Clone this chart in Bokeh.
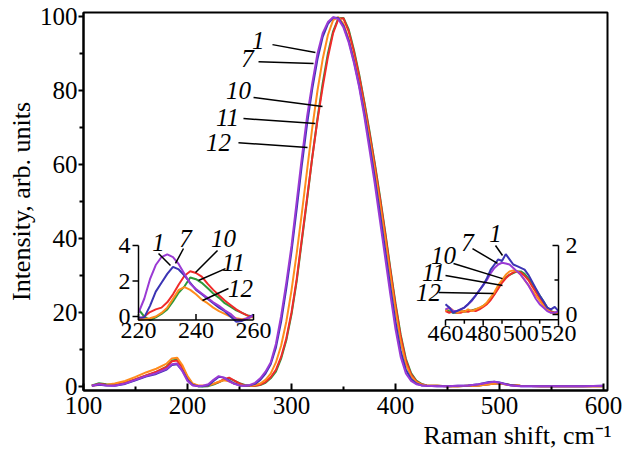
from bokeh.plotting import figure
from bokeh.models import Range1d, FixedTicker, Title
from bokeh.core.properties import value
from bokeh.embed import file_html
from bokeh.resources import INLINE

# ---------------- data ----------------
x_main = [108, 115, 122, 130, 140, 150, 160, 170, 180, 185, 190, 195, 200, 205, 210, 215, 220, 225, 230, 235,
          240, 245, 250, 255, 260,
          265, 270, 275, 280, 285, 290, 295, 300, 305, 310, 315, 320, 325, 330, 335, 340, 345, 350, 355, 360,
          365, 370, 375, 380, 385, 390, 395, 400, 405, 410, 415, 420, 425, 430,
          440, 450, 460, 470, 480, 490, 495, 500, 510, 520, 540, 560, 580, 600]

main_1 = [0.2, 0.6, 0.3, 0.2, 0.8, 1.8, 2.8, 3.6, 4.8, 6.0, 6.2, 4.2, 1.5, 0.3, 0.1, 0.2, 0.6, 1.8, 2.8, 2.4,
          1.4, 0.7, 0.3, 0.2, 0.4,
          1.0, 2.2, 4.0, 6.5, 11.5, 19, 28, 38, 50, 62, 73, 82, 90, 95.5, 98.5, 99.8, 99.3, 97, 93, 87.5,
          81, 73, 64, 55, 45, 35, 25, 15.5, 8, 3.5, 1.5, 0.6, 0.3, 0.2,
          0.1, 0.1, 0.2, 0.3, 0.6, 1.1, 1.3, 1.0, 0.3, 0.1, 0.1, 0.1, 0.1, 0.2]
main_7 = [0.2, 0.5, 0.3, 0.2, 0.7, 1.7, 2.7, 3.4, 4.6, 5.8, 6.0, 4.3, 1.8, 0.4, 0.1, 0.1, 0.3, 1.5, 2.6, 2.4,
          1.6, 0.8, 0.3, 0.2, 0.3,
          0.7, 1.8, 3.5, 6.0, 10.5, 17.5, 26.5, 36.5, 48, 60, 71, 80.5, 88.5, 94.5, 98, 99.7, 99.6, 97.5, 93.5, 88,
          81.5, 74, 65.5, 56.5, 47, 37, 27, 17.5, 9.5, 4.5, 2.0, 0.8, 0.3, 0.2,
          0.1, 0.1, 0.2, 0.3, 0.6, 1.2, 1.3, 1.1, 0.4, 0.1, 0.1, 0.1, 0.1, 0.2]
main_10 = [0.2, 0.7, 0.5, 0.4, 1.0, 2.0, 3.0, 4.0, 5.3, 6.8, 7.0, 5.2, 2.4, 0.6, 0.2, 0.2, 0.3, 0.7, 1.2, 2.0,
           2.4, 1.6, 0.8, 0.3, 0.2,
           0.2, 0.5, 1.2, 2.5, 4.5, 8, 13, 20, 29, 40, 51, 62, 72, 81, 89, 95.5, 99.3, 99.5, 96, 90.5,
           84, 76.5, 68.5, 60, 51, 41.5, 31.5, 22, 13.5, 7, 3.3, 1.4, 0.6, 0.3,
           0.2, 0.1, 0.1, 0.2, 0.3, 0.6, 0.8, 0.9, 0.4, 0.2, 0.1, 0.1, 0.1, 0.1]
main_11 = [0.3, 0.9, 0.6, 0.4, 0.9, 1.9, 2.9, 3.9, 5.4, 7.0, 7.2, 5.4, 2.5, 0.6, 0.1, 0.0, 0.1, 0.5, 1.1, 1.8,
           2.2, 1.6, 0.9, 0.4, 0.2,
           0.2, 0.4, 1.0, 2.2, 4.0, 7.5, 12.5, 19.5, 28.5, 39.5, 50.5, 62, 72.5, 82, 90, 96, 99.5, 99.6, 96.5, 91,
           84.5, 77, 69, 60.5, 51.5, 42, 32, 22.5, 14, 7.5, 3.6, 1.6, 0.7, 0.3,
           0.2, 0.1, 0.1, 0.2, 0.3, 0.6, 0.8, 0.9, 0.4, 0.2, 0.1, 0.1, 0.1, 0.1]
main_12 = [0.3, 0.4, 0.5, 0.8, 1.5, 2.6, 3.8, 4.8, 6.2, 7.6, 7.8, 5.8, 2.8, 0.8, 0.3, 0.2, 0.3, 0.7, 1.3, 1.7,
           1.4, 0.8, 0.4, 0.2, 0.2,
           0.4, 0.8, 1.8, 3.5, 6.5, 11, 17.5, 26, 36, 47, 58.5, 70, 80, 88.5, 95, 99, 99.8, 98, 94, 88.5,
           82, 75, 67, 58.5, 49.5, 40, 30, 20.5, 12, 6, 2.8, 1.2, 0.5, 0.3,
           0.2, 0.1, 0.1, 0.2, 0.3, 0.6, 0.8, 0.8, 0.4, 0.2, 0.1, 0.1, 0.1, 0.1]

x_in1 = [220, 222, 224, 226, 228, 230, 232, 234, 236, 238, 240, 242, 244, 246, 248, 250, 252, 254, 256, 258, 260]
in1_1 = [0.2, 1.0, 2.1, 2.9, 3.35, 3.5, 3.35, 2.95, 2.4, 1.85, 1.55, 1.3, 1.05, 0.8, 0.6, 0.35, 0.15, -0.15, -0.2, -0.1, 0.05]
in1_7 = [-0.05, -0.05, 0.6, 1.4, 1.9, 2.4, 2.8, 2.65, 2.3, 1.9, 1.5, 1.25, 1.0, 0.75, 0.5, 0.3, 0.0, -0.3, -0.25, -0.1, 0.1]
in1_10 = [-0.2, 0.0, 0.25, 0.4, 0.5, 0.8, 1.25, 1.8, 2.3, 2.55, 2.45, 2.25, 1.85, 1.5, 1.2, 0.9, 0.65, 0.4, 0.2, 0.05, -0.05]
in1_11 = [0.4, 0.0, -0.2, -0.05, 0.15, 0.4, 0.85, 1.35, 1.7, 2.2, 2.1, 1.9, 1.6, 1.3, 1.05, 0.75, 0.55, 0.35, 0.2, 0.05, 0.0]
in1_12 = [-0.2, -0.15, -0.1, 0.0, 0.2, 0.5, 1.0, 1.5, 1.65, 1.5, 1.25, 0.95, 0.75, 0.5, 0.3, 0.15, 0.0, -0.1, -0.15, -0.1, 0.0]

x_in2 = [460, 462, 464, 466, 468, 470, 472, 474, 476, 478, 480, 482, 484, 486, 488, 490, 492, 494, 496, 498,
         500, 502, 504, 506, 508, 510, 512, 514, 516, 518, 520]
in2_1 = [0.15, 0.2, 0.1, 0.1, 0.15, 0.2, 0.3, 0.4, 0.55, 0.7, 0.85, 1.0, 1.2, 1.35, 1.45, 1.5, 1.48, 1.45, 1.35, 1.25,
         1.15, 1.0, 0.85, 0.65, 0.45, 0.3, 0.2, 0.1, 0.05, 0.05, 0.1]
in2_7 = [0.3, 0.2, 0.05, 0.1, 0.15, 0.2, 0.3, 0.42, 0.55, 0.7, 0.85, 1.05, 1.3, 1.45, 1.6, 1.55, 1.75, 1.6, 1.45, 1.4,
         1.35, 1.3, 1.15, 0.95, 0.75, 0.55, 0.38, 0.2, 0.15, 0.22, 0.1]
in2_10 = [0.1, 0.05, 0.1, 0.05, 0.05, 0.1, 0.08, 0.12, 0.1, 0.15, 0.22, 0.3, 0.42, 0.58, 0.75, 0.92, 1.05, 1.15, 1.22, 1.25,
          1.22, 1.12, 1.0, 0.82, 0.65, 0.48, 0.32, 0.18, 0.08, 0.05, 0.05]
in2_11 = [0.15, 0.1, 0.05, 0.05, 0.1, 0.08, 0.1, 0.12, 0.15, 0.18, 0.25, 0.32, 0.45, 0.6, 0.78, 0.95, 1.08, 1.15, 1.2, 1.25,
          1.25, 1.18, 1.05, 0.9, 0.72, 0.55, 0.38, 0.2, 0.1, 0.05, 0.05]
in2_12 = [0.1, 0.2, 0.12, 0.05, 0.1, 0.08, 0.15, 0.1, 0.15, 0.2, 0.25, 0.35, 0.5, 0.65, 0.85, 1.0, 1.15, 1.25, 1.28, 1.25,
          1.15, 1.0, 0.85, 0.7, 0.55, 0.4, 0.25, 0.15, 0.05, 0.05, 0.05]

x_ticks = [100, 200, 300, 400, 500, 600]
x_minor = [150, 250, 350, 450, 550]
y_ticks = [0, 20, 40, 60, 80, 100]
y_minor = [10, 30, 50, 70, 90]
in1_xticks = [220, 240, 260]
in1_yticks = [0, 2, 4]
in2_xticks = [460, 480, 500, 520]
in2_xminor = [470, 490, 510]
in2_yticks = [0, 2]
in2_yminor = [1]

curve_names = ["1", "7", "10", "11", "12"]

# ---------------- styling / layout ----------------
C1, C7, C10, C11, C12 = "#9a3ad4", "#3b34b4", "#f02a2a", "#2f9a3a", "#ff8c1c"
FONT = "Liberation Serif"
W, H = 630, 460
FL, FR, FT, FB = 83, 607, 12, 390          # frame edges on the page (px)
OFF = 0                                     # page offset of the figure


def rng(d0, p0, d1, p1, lo_px, hi_px):
    k = (d1 - d0) / (p1 - p0)
    return Range1d(start=d0 + (lo_px - p0) * k, end=d0 + (hi_px - p0) * k)


p = figure(width=W, height=H, output_backend="svg", toolbar_location=None,
           x_range=rng(100, 83, 600, 603, FL, FR),
           y_range=rng(0, 386, 100, 16, FB, FT),
           min_border_left=FL - OFF, min_border_right=W - (FR - OFF),
           min_border_top=FT - OFF, min_border_bottom=H - (FB - OFF))
p.extra_x_ranges = {"i1x": rng(220, 138, 260, 253, FL, FR), "i2x": rng(460, 445, 520, 558, FL, FR)}
p.extra_y_ranges = {"i1y": rng(0, 316, 4, 245, FB, FT), "i2y": rng(0, 314, 2, 245, FB, FT)}

p.xgrid.visible = False
p.ygrid.visible = False
p.outline_line_color = "black"
p.outline_line_width = 2
p.background_fill_color = "white"
p.border_fill_color = "white"

p.xaxis.ticker = FixedTicker(ticks=x_ticks, minor_ticks=x_minor)
p.yaxis.ticker = FixedTicker(ticks=y_ticks, minor_ticks=y_minor)
for ax in (p.xaxis, p.yaxis):
    ax.axis_line_width = 2
    ax.axis_line_color = "black"
    ax.major_tick_line_width = 2
    ax.minor_tick_line_width = 2
    ax.major_tick_line_color = "black"
    ax.minor_tick_line_color = "black"
    ax.major_label_text_font = FONT
    ax.major_label_text_font_size = "25px"
    ax.major_label_text_color = "black"
p.xaxis.major_tick_in = 7
p.xaxis.major_tick_out = 0
p.xaxis.minor_tick_in = 4
p.xaxis.minor_tick_out = 0
p.xaxis.major_label_standoff = 6
p.yaxis.major_tick_in = 0
p.yaxis.major_tick_out = 5
p.yaxis.minor_tick_in = 0
p.yaxis.minor_tick_out = 4
p.yaxis.major_label_standoff = 1
p.yaxis.axis_label = "Intensity, arb. units"
p.yaxis.axis_label_text_font = FONT
p.yaxis.axis_label_text_font_size = "26px"
p.yaxis.axis_label_text_font_style = "normal"
p.yaxis.axis_label_text_color = "black"
p.yaxis.axis_label_standoff = 1

p.add_layout(Title(text="Raman shift, cm\u207b\u00b9", align="right", text_font=FONT,
                   text_font_size="26px", text_font_style="normal", text_color="black",
                   standoff=5, offset=-4), "below")

# ---------------- main curves ----------------
main_series = [(main_11, C11), (main_10, C10), (main_12, C12), (main_7, C7), (main_1, C1)]
for ys, c in main_series:
    p.line(x_main, ys, line_color=c, line_width=2)

LBL = dict(text_font=value(FONT), text_font_size="25px", text_font_style="italic",
           text_color="black", text_align="center", text_baseline="middle")

# main labels with leaders
p.text(x=[268, 257.7, 249, 238.5, 229.8], y=[93.5, 88.6, 80, 72.7, 65.9], text=curve_names, **LBL)
p.segment(x0=[281.7, 268.3, 263.5, 253.8, 249], y0=[92.4, 87.8, 78.1, 72.4, 65.9],
          x1=[323, 321.2, 329.8, 323, 315.4], y1=[90.3, 87.3, 75.7, 71.1, 64.6],
          line_color="black", line_width=1.5)

# ---------------- inset 1 ----------------
I1 = dict(x_range_name="i1x", y_range_name="i1y")
yb1 = -0.2
for ys, c in [(in1_11, C11), (in1_10, C10), (in1_12, C12), (in1_7, C7), (in1_1, C1)]:
    p.line(x_in1, ys, line_color=c, line_width=2, **I1)
p.line([in1_xticks[0], in1_xticks[0], in1_xticks[-1]], [in1_yticks[-1], yb1, yb1],
       line_color="black", line_width=1.5, **I1)
p.ray(x=in1_xticks, y=[yb1] * len(in1_xticks), length=6, length_units="screen", angle=1.5708,
      line_color="black", line_width=1.5, **I1)
p.ray(x=[in1_xticks[0]] * len(in1_yticks), y=in1_yticks, length=6, length_units="screen", angle=3.14159,
      line_color="black", line_width=1.5, **I1)
TK = dict(text_font=value(FONT), text_font_size="24px", text_color="black")
p.text(x=in1_xticks, y=[yb1] * len(in1_xticks), text=[str(t) for t in in1_xticks],
       text_align="center", text_baseline="top", y_offset=3, **TK, **I1)
p.text(x=[in1_xticks[0]] * len(in1_yticks), y=in1_yticks, text=[str(t) for t in in1_yticks],
       text_align="right", text_baseline="middle", x_offset=-8, **TK, **I1)
p.text(x=[226.96, 236.35, 249.57, 253.04, 255.48], y=[4.17, 4.39, 4.39, 3.04, 1.58],
       text=curve_names, **LBL, **I1)
p.segment(x0=[226.96, 235.65, 247.48, 250.26, 251.30], y0=[3.55, 3.83, 3.72, 2.70, 1.58],
          x1=[231.13, 232.87, 239.83, 240.87, 242.26], y1=[2.87, 2.99, 2.48, 2.03, 0.90],
          line_color="black", line_width=1.5, **I1)

# ---------------- inset 2 ----------------
I2 = dict(x_range_name="i2x", y_range_name="i2y")
yb2 = -0.15
for ys, c in [(in2_11, C11), (in2_10, C10), (in2_12, C12), (in2_1, C1), (in2_7, C7)]:
    p.line(x_in2, ys, line_color=c, line_width=2, **I2)
p.line([in2_xticks[0], in2_xticks[-1], in2_xticks[-1]], [yb2, yb2, in2_yticks[-1]],
       line_color="black", line_width=1.5, **I2)
p.ray(x=in2_xticks, y=[yb2] * len(in2_xticks), length=6, length_units="screen", angle=-1.5708,
      line_color="black", line_width=1.5, **I2)
p.ray(x=in2_xminor, y=[yb2] * len(in2_xminor), length=4, length_units="screen", angle=-1.5708,
      line_color="black", line_width=1.5, **I2)
p.ray(x=[in2_xticks[-1]] * len(in2_yticks), y=in2_yticks, length=6, length_units="screen", angle=3.14159,
      line_color="black", line_width=1.5, **I2)
p.ray(x=[in2_xticks[-1]] * len(in2_yminor), y=in2_yminor, length=4, length_units="screen", angle=3.14159,
      line_color="black", line_width=1.5, **I2)
p.text(x=in2_xticks, y=[yb2] * len(in2_xticks), text=[str(t) for t in in2_xticks],
       text_align="center", text_baseline="top", y_offset=6, **TK, **I2)
p.text(x=[in2_xticks[-1]] * len(in2_yticks), y=in2_yticks, text=[str(t) for t in in2_yticks],
       text_align="left", text_baseline="middle", x_offset=7, **TK, **I2)
p.text(x=[486.55, 471.68, 458.94, 453.63, 450.97], y=[2.35, 2.09, 1.71, 1.22, 0.64],
       text=curve_names, **LBL, **I2)
p.segment(x0=[486.55, 474.34, 464.25, 460.0, 456.28], y0=[2.0, 1.91, 1.48, 1.13, 0.64],
          x1=[490.27, 487.61, 490.27, 490.27, 485.49], y1=[1.71, 1.48, 1.04, 0.84, 0.61],
          line_color="black", line_width=1.5, **I2)

open("out.html", "w").write(file_html(p, INLINE))
